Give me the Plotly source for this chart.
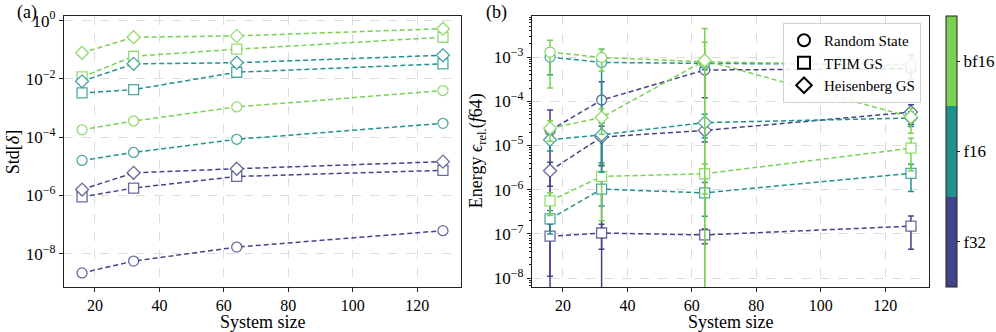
import plotly.graph_objects as go

sizes = [16, 32, 64, 128]
dtypes = ["f32", "f16", "bf16"]
states = ["Random State", "TFIM GS", "Heisenberg GS"]
colors = {"f32": "#414487", "f16": "#21918c", "bf16": "#7ad151"}
symbols = {"Random State": "circle", "TFIM GS": "square", "Heisenberg GS": "diamond"}

# (a) Std[delta]
std_delta = {
    ("Random State", "f32"): [2.2e-9, 5.6e-9, 1.7e-8, 6.2e-8],
    ("Random State", "f16"): [1.6e-5, 3.0e-5, 8.5e-5, 3.0e-4],
    ("Random State", "bf16"): [1.8e-4, 3.6e-4, 1.1e-3, 4.0e-3],
    ("TFIM GS", "f32"): [9.0e-7, 1.8e-6, 4.5e-6, 7.3e-6],
    ("TFIM GS", "f16"): [3.3e-3, 4.3e-3, 1.7e-2, 3.3e-2],
    ("TFIM GS", "bf16"): [1.17e-2, 6.0e-2, 1.05e-1, 2.7e-1],
    ("Heisenberg GS", "f32"): [1.6e-6, 6.0e-6, 8.3e-6, 1.45e-5],
    ("Heisenberg GS", "f16"): [8.3e-3, 3.3e-2, 3.6e-2, 6.5e-2],
    ("Heisenberg GS", "bf16"): [7.9e-2, 2.7e-1, 3.0e-1, 5.3e-1],
}

# (b) relative energy error vs f64, mean and std
energy = {
    ("Random State", "f32"): [2.2e-5, 1.07e-4, 5.1e-4, 5.5e-4],
    ("Random State", "f16"): [1.0e-3, 7.6e-4, 7.2e-4, 6.8e-4],
    ("Random State", "bf16"): [1.3e-3, 9.8e-4, 7.8e-4, 6.6e-4],
    ("TFIM GS", "f32"): [8.9e-8, 1.05e-7, 9.5e-8, 1.5e-7],
    ("TFIM GS", "f16"): [2.2e-7, 1.03e-6, 8.5e-7, 2.35e-6],
    ("TFIM GS", "bf16"): [5.6e-7, 2.0e-6, 2.3e-6, 8.7e-6],
    ("Heisenberg GS", "f32"): [2.7e-6, 1.55e-5, 2.2e-5, 5.7e-5],
    ("Heisenberg GS", "f16"): [1.35e-5, 1.75e-5, 3.3e-5, 4.2e-5],
    ("Heisenberg GS", "bf16"): [2.45e-5, 4.3e-5, 8.4e-4, 4.4e-5],
}
energy_err = {
    ("Random State", "f32"): [4.2e-5, 1.7e-4, 3.9e-4, 1.0e-4],
    ("Random State", "f16"): [6.0e-4, 7.56e-4, 2.0e-4, 4.5e-4],
    ("Random State", "bf16"): [1.1e-3, 5.0e-4, 1.4e-3, 3.4e-4],
    ("TFIM GS", "f32"): [7.8e-8, 6.0e-8, 3.5e-8, 1.05e-7],
    ("TFIM GS", "f16"): [1.2e-7, 6.0e-7, 6.0e-7, 1.44e-6],
    ("TFIM GS", "bf16"): [3.0e-7, 1.8e-6, 1.5e-6, 6.0e-6],
    ("Heisenberg GS", "f32"): [1.5e-6, 1.2e-5, 1.0e-5, 2.7e-5],
    ("Heisenberg GS", "f16"): [6.0e-6, 1.5e-5, 1.8e-5, 1.5e-5],
    ("Heisenberg GS", "bf16"): [1.2e-5, 2.5e-5, 3.6e-3, 2.5e-5],
}

left_ticks = [1e0, 1e-2, 1e-4, 1e-6, 1e-8]
left_ticktext = ["10<sup>0</sup>", "10<sup>−2</sup>", "10<sup>−4</sup>", "10<sup>−6</sup>", "10<sup>−8</sup>"]
right_ticks = [1e-3, 1e-4, 1e-5, 1e-6, 1e-7, 1e-8]
right_ticktext = ["10<sup>−3</sup>", "10<sup>−4</sup>", "10<sup>−5</sup>", "10<sup>−6</sup>", "10<sup>−7</sup>", "10<sup>−8</sup>"]

FONT = "Liberation Serif"
W, H = 996, 332
# plot area in pixels (outer box of both panels)
L, R, T, B = 64, 929, 16, 286.7
PW, PH = R - L, B - T


def px(x):
    return (x - L) / PW


def py(y):
    return (B - y) / PH


def rgba(hexcol, a):
    h = hexcol.lstrip("#")
    return f"rgba({int(h[0:2],16)},{int(h[2:4],16)},{int(h[4:6],16)},{a})"


def label(text, x, y, angle=0, size=18):
    return dict(text=text, x=px(x), y=py(y), xref="paper", yref="paper",
                xanchor="center", yanchor="middle", showarrow=False,
                textangle=angle, font=dict(size=size))


fig = go.Figure()

for st in states:
    for dt in dtypes:
        c = colors[dt]
        mk = dict(symbol=symbols[st], size=10, color="white",
                  line=dict(color=rgba(c, 0.8), width=1.3))
        fig.add_trace(go.Scatter(
            x=sizes, y=std_delta[(st, dt)], mode="lines+markers",
            line=dict(color=c, width=1.5, dash="5px,3px"),
            marker=mk, showlegend=False, xaxis="x", yaxis="y"))
        fig.add_trace(go.Scatter(
            x=sizes, y=energy[(st, dt)], mode="lines+markers",
            line=dict(color=c, width=1.5, dash="5px,3px"),
            marker=mk, showlegend=False, xaxis="x2", yaxis="y2",
            error_y=dict(type="data", array=energy_err[(st, dt)], visible=True,
                         color=c, thickness=1.5, width=3)))

# legend entries
for st in states:
    fig.add_trace(go.Scatter(
        x=[None], y=[None], mode="markers", name=st, xaxis="x2", yaxis="y2",
        marker=dict(symbol=symbols[st], size=11, color="white",
                    line=dict(color="black", width=1.2))))

# discrete colorbar for dtypes
cs = [[0, colors["f32"]], [1/3, colors["f32"]], [1/3, colors["f16"]],
      [2/3, colors["f16"]], [2/3, colors["bf16"]], [1, colors["bf16"]]]
fig.add_trace(go.Scatter(
    x=[None], y=[None], mode="markers", showlegend=False, hoverinfo="skip",
    xaxis="x2", yaxis="y2",
    marker=dict(color=[0], colorscale=cs, cmin=0, cmax=3, showscale=True,
                colorbar=dict(tickvals=[0.5, 1.5, 2.5], ticktext=dtypes,
                              x=px(946), xanchor="left", y=0.5, yanchor="middle",
                              len=1, lenmode="fraction", thickness=11,
                              outlinewidth=1, outlinecolor="#222",
                              ticks="outside", ticklen=3, tickcolor="#222",
                              tickfont=dict(family=FONT, size=17, color="black"),
                              xpad=0, ypad=0))))

axis_common = dict(
    showline=True, linecolor="#222", linewidth=1.2, mirror=True,
    ticks="outside", ticklen=4, tickcolor="#222", automargin=False,
    showgrid=True, gridcolor="#dcdcdc", griddash="dash", gridwidth=0.8,
    zeroline=False, tickfont=dict(family=FONT, size=16, color="black"),
)
xcommon = dict(axis_common, range=[10.4, 133.6], tickvals=[20, 40, 60, 80, 100, 120])

fig.update_layout(
    width=W, height=H, margin=dict(l=L, r=W - R, t=T, b=H - B, autoexpand=False),
    paper_bgcolor="white", plot_bgcolor="white",
    font=dict(family=FONT, size=17, color="black"),
    xaxis=dict(xcommon, domain=[0, px(461)], anchor="y"),
    yaxis=dict(axis_common, type="log", domain=[0, 1], anchor="x",
               range=[-9.14, 0.16], tickvals=left_ticks, ticktext=left_ticktext,
               tickfont=dict(family=FONT, size=17, color="black")),
    xaxis2=dict(xcommon, domain=[px(532), 1], anchor="y2"),
    yaxis2=dict(axis_common, type="log", domain=[0, 1], anchor="x2",
                range=[-8.2, -2.07], tickvals=right_ticks, ticktext=right_ticktext,
                tickfont=dict(family=FONT, size=17, color="black"),
                minor=dict(ticks="outside", ticklen=2, tickcolor="#222", showgrid=False,
                           tickvals=[m * 10.0**e for e in range(-9, -1) for m in range(2, 10)])),
    legend=dict(x=px(921), xanchor="right", y=py(23), yanchor="top",
                bgcolor="rgba(255,255,255,0.85)", bordercolor="#d0d0d0", borderwidth=1,
                font=dict(family=FONT, size=15), itemsizing="constant",
                tracegroupgap=0),
    annotations=[
        label("(a)", 27, 13),
        label("(b)", 496, 13),
        label("System size", 262.5, 322),
        label("System size", 730.5, 322),
        label("Std[<i>δ</i>]", 13, 152, angle=-90),
        label("Energy <i>ϵ</i><sub>rel.</sub>(<i>f</i>64)", 477, 151, angle=-90),
    ],
)

# the page body has a default 8px margin; drop it so the figure sits at 0,0
fig.write_html("out.html", config={"displayModeBar": False},
               post_script="document.body.style.margin='0';document.body.style.overflow='hidden';")
